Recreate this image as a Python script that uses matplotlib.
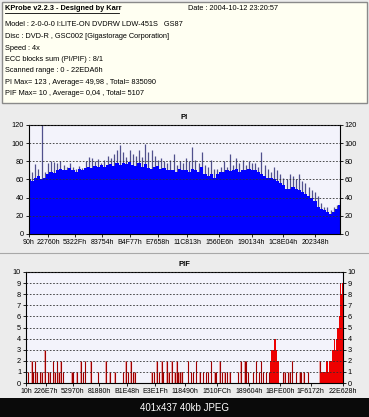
import numpy as np
import matplotlib
matplotlib.use('Agg')
import matplotlib.pyplot as plt
from matplotlib.patches import Rectangle

# header lines
header_title = 'KProbe v2.2.3 - Designed by Karr'
header_date = 'Date : 2004-10-12 23:20:57'
header_lines = ['Model : 2-0-0-0 I:LITE-ON DVDRW LDW-451S   GS87',
                'Disc : DVD-R , GSC002 [Gigastorage Corporation]',
                'Speed : 4x',
                'ECC blocks sum (PI/PIF) : 8/1',
                'Scanned range : 0 - 22EDA6h',
                'PI Max= 123 , Average= 49,98 , Total= 835090',
                'PIF Max= 10 , Average= 0,04 , Total= 5107']

scan_end = 0x22EDA6

pi_ticks = ['90h', '22760h', '5322Fh', '83754h', 'B4F77h', 'E7658h', '11C813h',
            '1560E6h', '190134h', '1C8E04h', '202348h']
pif_ticks = ['10h', '226E7h', '52970h', '81880h', 'B1E48h', 'E3E1Fh', '118490h',
             '1510FCh', '189604h', '1BFE00h', '1F6172h', '22E628h']

# PI per sample block (solid level and peak)
pi_avg = [60, 58, 62, 64, 60, 62, 66, 68, 67, 70,
          72, 71, 70, 73, 70, 68, 72, 71, 73, 74,
          73, 75, 74, 76, 74, 76, 77, 75, 78, 76,
          78, 77, 79, 76, 75, 78, 74, 77, 73, 72,
          74, 75, 72, 73, 70, 71, 70, 68, 72, 70,
          70, 68, 72, 70, 68, 74, 66, 64, 66, 62,
          66, 68, 68, 70, 69, 70, 72, 68, 70, 71,
          72, 70, 70, 68, 66, 64, 62, 62, 60, 58,
          56, 54, 50, 50, 52, 50, 48, 46, 44, 42,
          40, 36, 30, 28, 26, 24, 22, 24, 28, 32]
pi_max = [70, 68, 77, 72, 123, 68, 78, 80, 79, 78,
          80, 76, 74, 78, 74, 72, 75, 73, 80, 85,
          84, 80, 83, 78, 82, 86, 84, 88, 92, 98,
          90, 85, 93, 88, 86, 92, 85, 99, 90, 92,
          86, 82, 84, 80, 78, 82, 88, 76, 80, 78,
          84, 80, 96, 82, 78, 90, 76, 74, 82, 72,
          72, 74, 80, 74, 88, 76, 84, 78, 82, 76,
          80, 78, 78, 74, 90, 76, 72, 68, 74, 70,
          66, 62, 60, 66, 64, 60, 66, 58, 56, 52,
          48, 46, 42, 34, 30, 30, 26, 30, 32, 36]

# PIF events (position in k-sectors, count)
pif_pos = [17, 41, 53, 65, 77, 101, 113, 137, 161, 173, 197, 209, 226, 238, 252, 269,
           329, 341, 365, 397, 414, 426, 466, 522, 577, 606, 642, 702, 721, 738, 757,
           774, 786, 907, 926, 943, 962, 979, 991, 1015, 1032, 1051, 1075, 1087, 1099,
           1111, 1123, 1130, 1171, 1195, 1207, 1231, 1255, 1279, 1303, 1315, 1339,
           1363, 1375, 1399, 1416, 1435, 1455, 1471, 1532, 1549, 1580, 1587, 1604,
           1640, 1664, 1683, 1700, 1712, 1736, 1755,
           1856, 1868, 1892, 1904, 1921, 1952, 1976, 1989, 2005, 2037, 2121]
pif_val = [1, 2, 1, 2, 1, 1, 1, 3, 1, 1, 2, 1, 2, 1, 2, 1,
           1, 1, 1, 2, 1, 2, 2, 1, 2, 1, 1, 1, 2, 1, 2,
           1, 1, 1, 1, 2, 1, 2, 1, 2, 1, 2, 1, 2, 1,
           1, 1, 1, 2, 1, 1, 2, 1, 1, 1, 1, 2,
           1, 1, 2, 1, 1, 1, 1, 1, 2, 2, 2, 1,
           1, 2, 1, 2, 1, 1, 1,
           1, 1, 1, 1, 2, 1, 1, 1, 1, 1, 2]
# dense PIF areas
pif_dense_pos = [1765, 1774, 1783, 1792, 1801, 1810, 1820,
                 2125, 2133, 2141, 2149, 2157, 2165, 2173, 2181, 2189, 2197, 2205,
                 2213, 2221, 2229, 2237, 2245, 2253, 2261, 2269, 2273, 2279, 2285]
pif_dense_val = [2, 3, 3, 4, 4, 3, 2,
                 1, 1, 1, 1, 1, 1, 2, 1, 2, 2, 2,
                 3, 3, 4, 3, 4, 5, 6, 7, 9, 8, 9]

W, H = 369, 417
fig = plt.figure(figsize=(W / 100, H / 100), dpi=100)
fig.patch.set_facecolor('#ececec')


def fy(y):
    return 1 - y / H


def fx(x):
    return x / W


# header box
fig.patches.append(Rectangle((fx(2), fy(103)), fx(365), 101 / H, transform=fig.transFigure,
                             facecolor='#fffff2', edgecolor='#8a8a8a', lw=1))
# black band at the bottom
fig.patches.append(Rectangle((0, 0), 1, 19 / H, transform=fig.transFigure,
                             facecolor='#0a0a0a', edgecolor='none'))
fig.lines.append(plt.Line2D([0, 1], [fy(253), fy(253)], transform=fig.transFigure,
                            color='#a8a8a8', lw=0.8))

fs = 5.3
hfont = 'Liberation Sans'
fig.text(fx(5), fy(8), header_title, fontsize=fs, fontweight='bold', va='center', family=hfont)
fig.lines.append(plt.Line2D([fx(5), fx(119)], [fy(12.5), fy(12.5)], transform=fig.transFigure,
                            color='black', lw=0.6))
fig.text(fx(188), fy(8), header_date, fontsize=fs, va='center', family=hfont)
for k, line in enumerate(header_lines):
    fig.text(fx(5), fy(25 + k * 11.5), line, fontsize=fs, va='center', family=hfont)

fig.text(0.5, fy(408), '401x437 40kb JPEG', color='white', fontsize=7,
         family='Liberation Sans', ha='center', va='center')

grid_kw = dict(color='#303030', lw=0.6, linestyle=(0, (2, 2)))


def style(ax, ticks, ymax, ystep):
    ax.set_facecolor('#f3f3fb')
    ax.set_xlim(0, scan_end)
    ax.set_ylim(0, ymax)
    ax.set_yticks(np.arange(0, ymax + 1, ystep))
    ax.set_xticks([int(t[:-1], 16) for t in ticks])
    ax.set_xticklabels(ticks)
    ax.tick_params(axis='both', labelsize=5.0, length=2, width=0.6, pad=1.5)
    ax.tick_params(axis='y', right=True, labelright=True)
    for lab in ax.get_xticklabels() + ax.get_yticklabels() + ax.get_yticklabels(which='both'):
        lab.set_family(hfont)
    for lab in ax.yaxis.get_ticklabels(which='both'):
        lab.set_family(hfont)
    ax.yaxis.set_tick_params(labelsize=5.3)
    ax.yaxis.grid(True, **grid_kw)
    ax.set_axisbelow(False)
    for s in ax.spines.values():
        s.set_linewidth(0.8)


# PI
ax1 = fig.add_axes([fx(29), fy(234), fx(311), 109 / H])
pi_x = np.linspace(0, scan_end, len(pi_avg))
step = pi_x[1] - pi_x[0]
ax1.vlines(pi_x, 0, pi_max, color='#50508c', lw=0.9, zorder=1)
ax1.bar(pi_x, pi_avg, width=step * 1.05, color='#0000ff', align='center', lw=0,
        antialiased=False, zorder=2)
style(ax1, pi_ticks, 120, 20)
ax1.set_title('PI', fontsize=5.5, fontweight='bold', pad=4, family=hfont)

# PIF
ax2 = fig.add_axes([fx(26), fy(383), fx(317), 111 / H])
pos = np.array(pif_pos) * 1000
ax2.bar(pos, pif_val, width=7000, color='#f0a8a8', lw=0, zorder=1)
ax2.vlines(pos, 0, pif_val, color='#a00000', lw=0.8, zorder=2)
ax2.bar(np.array(pif_dense_pos) * 1000, pif_dense_val, width=8500, color='#ee0000',
        lw=0, antialiased=False, zorder=2)
style(ax2, pif_ticks, 10, 1)
ax2.set_title('PIF', fontsize=5.5, fontweight='bold', pad=4, family=hfont)

fig.savefig('out.png', dpi=100, facecolor=fig.get_facecolor())
